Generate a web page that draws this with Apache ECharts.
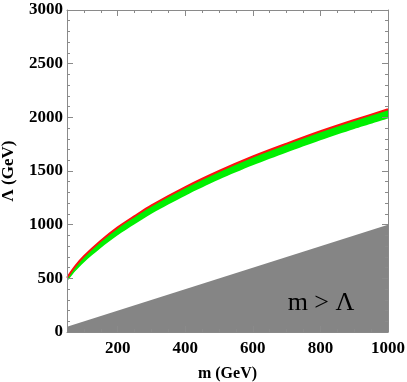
<!DOCTYPE html>
<html>
<head>
<meta charset="utf-8">
<script src="https://cdn.jsdelivr.net/npm/echarts@6/dist/echarts.min.js"></script>
<style>
    html,body{margin:0;padding:0;background:#fff;}
    #myChart{width:407px;height:382px;}
</style>
</head>
<body>
<div id="myChart"></div>
<script>
    // values
    var mValues = [50, 75, 100, 150, 200, 250, 300, 400, 500, 600, 700, 800, 900, 1000];
    var upperLambda = [505, 615, 705, 850, 975, 1080, 1180, 1350, 1500, 1635, 1755, 1870, 1975, 2075];
    var lowerLambda = [470, 568, 648, 782, 901, 1003, 1102, 1270, 1420, 1553, 1673, 1787, 1892, 1990];
    var diagonal = [[50, 50], [1000, 1000]];   // m = Lambda line
    var xLabels = [200, 400, 600, 800, 1000];

    var serif = '"Liberation Serif", "Times New Roman", serif';
    var frameColor = '#8a8a8a';

    function pairs(xs, ys){
        return xs.map(function(x, i){ return [x, ys[i]]; });
    }
    var lowerData = pairs(mValues, lowerLambda);
    var upperData = pairs(mValues, upperLambda);
    var plain = function(v){ return String(v); };

    function xAx(pos, withLabel, major){
        return {
            type: 'value', position: pos, min: 50, max: 1000, z: 10,
            interval: 50,
            axisLine: {show: !major, lineStyle: {color: frameColor, width: 1}},
            axisTick: major
                ? {show: true, inside: true, length: 6, customValues: xLabels, lineStyle: {color: frameColor}}
                : {show: true, inside: true, length: 3, lineStyle: {color: frameColor}},
            axisLabel: withLabel
                ? {show: true, customValues: xLabels, formatter: plain, color: '#000', fontFamily: serif, fontWeight: 'bold', fontSize: 17, margin: 8}
                : {show: false},
            splitLine: {show: false},
            name: withLabel ? 'm (GeV)' : '',
            nameLocation: 'middle', nameGap: 34,
            nameTextStyle: {color: '#000', fontFamily: serif, fontWeight: 'bold', fontSize: 16}
        };
    }
    function yAx(pos, withLabel){
        return {
            type: 'value', position: pos, min: 0, max: 3000, interval: 500, z: 10,
            axisLine: {show: true, lineStyle: {color: frameColor, width: 1}},
            axisTick: {show: true, inside: true, length: 6, lineStyle: {color: frameColor}},
            minorTick: {show: true, splitNumber: 5, length: 3, lineStyle: {color: frameColor}},
            axisLabel: withLabel
                ? {show: true, formatter: plain, color: '#000', fontFamily: serif, fontWeight: 'bold', fontSize: 17, margin: 4}
                : {show: false},
            splitLine: {show: false},
            name: withLabel ? 'Λ (GeV)' : '',
            nameLocation: 'middle', nameGap: 50,
            nameTextStyle: {color: '#000', fontFamily: serif, fontWeight: 'bold', fontSize: 17}
        };
    }

    var myChart = echarts.init(document.getElementById('myChart'));
    myChart.setOption({
        animation: false,
        grid: {left: 67, right: 19, top: 10, bottom: 50, containLabel: false, outerBoundsMode: 'none'},
        xAxis: [xAx('bottom', true, false), xAx('bottom', false, true), xAx('top', false, false), xAx('top', false, true)],
        yAxis: [yAx('left', true), yAx('right', false)],
        graphic: [{
            type: 'text', x: 321, y: 303, z: 20,
            style: {text: 'm > Λ', font: '26px ' + serif, fill: '#000', align: 'center', verticalAlign: 'middle'}
        }],
        series: [
            {
                name: 'upperFill', type: 'line', data: upperData, symbol: 'none', smooth: 0.3, silent: true, z: 2,
                lineStyle: {width: 0}, areaStyle: {color: '#00f000', opacity: 1}
            },
            {
                name: 'lowerFill', type: 'line', data: lowerData, symbol: 'none', smooth: 0.3, silent: true, z: 3,
                lineStyle: {width: 0}, areaStyle: {color: '#ffffff', opacity: 1}
            },
            {
                name: 'excluded', type: 'line', data: diagonal, symbol: 'none', silent: true, z: 4,
                lineStyle: {width: 0}, areaStyle: {color: '#858585', opacity: 1}
            },
            {
                name: 'upper', type: 'line', data: upperData, symbol: 'none', smooth: 0.3, silent: true, z: 5,
                lineStyle: {color: '#ff1010', width: 2}
            }
        ]
    });
</script>
</body>
</html>
